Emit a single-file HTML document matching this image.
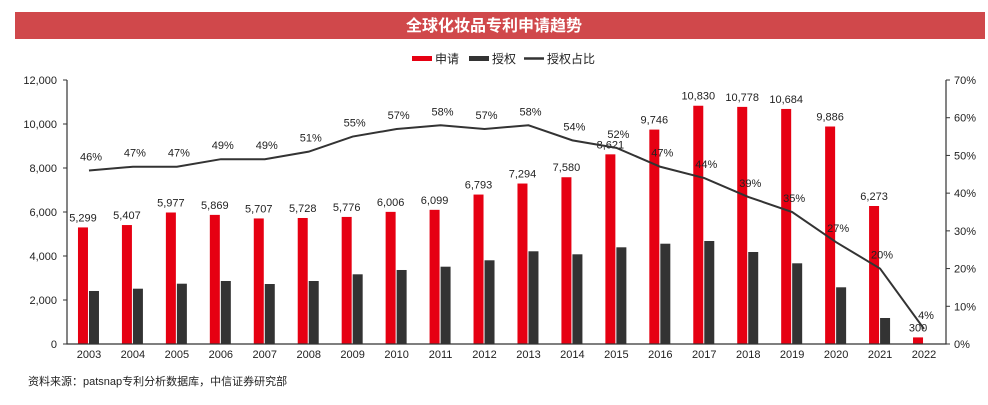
<!DOCTYPE html>
<html><head><meta charset="utf-8"><style>
body{margin:0;background:#fff;font-family:"Liberation Sans","Noto Sans CJK SC",sans-serif;}
svg text{font-family:"Liberation Sans","Noto Sans CJK SC",sans-serif;}
</style></head><body>
<svg id="chart" width="988" height="400" viewBox="0 0 988 400" xmlns="http://www.w3.org/2000/svg">
<rect x="15" y="12" width="970" height="27" fill="#d0484b"/>
<text x="494" y="31" text-anchor="middle" fill="#fff" font-size="16" font-weight="bold">全球化妆品专利申请趋势</text>
<g font-size="12" fill="#222">
<rect x="412" y="56" width="20" height="5" fill="#e60012"/>
<text x="435" y="63">申请</text>
<rect x="469" y="56" width="20" height="5" fill="#333"/>
<text x="492" y="63">授权</text>
<line x1="524" y1="58.5" x2="544" y2="58.5" stroke="#333" stroke-width="2.5"/>
<text x="547" y="63">授权占比</text>
</g>
<g id="plot"></g>
<text x="28" y="385" font-size="11" fill="#222">资料来源：patsnap专利分析数据库，中信证券研究部</text>
</svg>
<script>
const years=["2003","2004","2005","2006","2007","2008","2009","2010","2011","2012","2013","2014","2015","2016","2017","2018","2019","2020","2021","2022"];
const applications=[5299,5407,5977,5869,5707,5728,5776,6006,6099,6793,7294,7580,8621,9746,10830,10778,10684,9886,6273,300];
const grants=[2410,2514,2741,2864,2727,2864,3168,3364,3514,3805,4214,4077,4395,4559,4682,4182,3668,2577,1182,12];
const ratios=[46,47,47,49,49,51,55,57,58,57,58,54,52,47,44,39,35,27,20,4];
const leftTicks=[0,2000,4000,6000,8000,10000,12000];
const rightTicks=[0,10,20,30,40,50,60,70];
const X0=67,X1=946,Y0=344,Y1=80;
const band=(X1-X0)/years.length;
const xc=i=>X0+band*(i+0.5);
const yL=v=>Y0-(v/12000)*(Y0-Y1);
const yR=v=>Y0-(v/70)*(Y0-Y1);
const ns="http://www.w3.org/2000/svg";
const g=document.getElementById('plot');
function mk(t,a){const e=document.createElementNS(ns,t);for(const k in a)e.setAttribute(k,a[k]);g.appendChild(e);return e;}
const fmt=v=>v.toLocaleString('en-US');
leftTicks.forEach(v=>{
 const t=mk('text',{x:57,y:yL(v)+4,'text-anchor':'end','font-size':11,fill:'#222'});t.textContent=fmt(v);
 
 
 const l=mk('line',{x1:X0-4,x2:X0,y1:yL(v),y2:yL(v),stroke:'#333'});
 
 
});
rightTicks.forEach(v=>{
 const t=mk('text',{x:954,y:yR(v)+4,'font-size':11,fill:'#222'});t.textContent=v+'%';
 
 
 const l=mk('line',{x1:X1,x2:X1+4,y1:yR(v),y2:yR(v),stroke:'#333'});
 
 
});
years.forEach((y,i)=>{
 const r=mk('rect',{x:xc(i)-11,y:yL(applications[i]),width:10,height:Y0-yL(applications[i]),fill:'#e60012'});
 
 
 const d=mk('rect',{x:xc(i),y:yL(grants[i]),width:10,height:Y0-yL(grants[i]),fill:'#333'});
 
 
 const t=mk('text',{x:xc(i),y:358,'text-anchor':'middle','font-size':11,fill:'#222'});t.textContent=y;
 
 
 const v=mk('text',{x:xc(i)-6,y:yL(applications[i])-6,'text-anchor':'middle','font-size':11,fill:'#222'});v.textContent=fmt(applications[i]);
 
 
});
const ax=mk('path',{d:`M${X0},${Y1}V${Y0}H${X1}V${Y1}`,fill:'none',stroke:'#333','stroke-width':1.2});


const ln=mk('polyline',{points:ratios.map((v,i)=>xc(i)+','+yR(v)).join(' '),fill:'none',stroke:'#333','stroke-width':2});


ratios.forEach((v,i)=>{
 const t=mk('text',{x:xc(i)+2,y:yR(v)-10,'text-anchor':'middle','font-size':11,fill:'#222'});t.textContent=v+'%';
 
 
});
</script>
</body></html>
